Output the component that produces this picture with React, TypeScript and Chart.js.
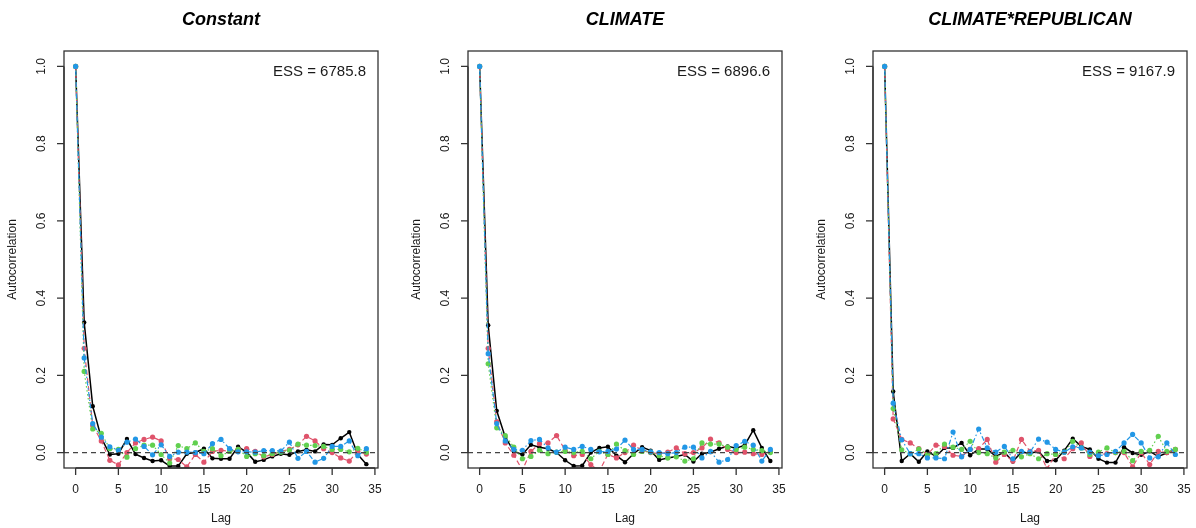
import React, { useEffect, useRef } from "react";
import { Chart, registerables } from "chart.js";

Chart.register(...registerables);

const LAGS = [0, 1, 2, 3, 4, 5, 6, 7, 8, 9, 10, 11, 12, 13, 14, 15, 16, 17, 18, 19, 20, 21, 22, 23, 24, 25, 26, 27, 28, 29, 30, 31, 32, 33, 34];
const X_TICKS = [0, 5, 10, 15, 20, 25, 30, 35];
const Y_TICKS = [0, 0.2, 0.4, 0.6, 0.8, 1.0];
const Y_TICK_LABELS = ["0.0", "0.2", "0.4", "0.6", "0.8", "1.0"];

const TITLES = ["Constant", "CLIMATE", "CLIMATE*REPUBLICAN"];
const ESS_LABELS = ["ESS = 6785.8", "ESS = 6896.6", "ESS = 9167.9"];

const CONST_BLACK = [1.0, 0.337, 0.12, 0.038, -0.005, -0.003, 0.035, -0.004, -0.014, -0.022, -0.02, -0.035, -0.035, -0.003, 0.0, 0.01, -0.015, -0.016, -0.016, 0.015, 0.001, -0.024, -0.019, -0.01, -0.003, -0.006, 0.003, 0.007, 0.003, 0.021, 0.02, 0.037, 0.053, -0.005, -0.03];
const CONST_RED = [1.0, 0.27, 0.07, 0.03, -0.02, -0.032, 0.0, 0.025, 0.034, 0.04, 0.03, -0.016, -0.018, -0.037, -0.005, -0.025, 0.003, 0.006, 0.003, 0.008, 0.01, 0.003, -0.011, -0.005, 0.003, 0.008, 0.02, 0.042, 0.03, 0.01, 0.0, -0.014, -0.022, 0.003, -0.004];
const CONST_GREEN = [1.0, 0.21, 0.061, 0.05, 0.01, 0.008, -0.012, 0.01, 0.019, 0.019, -0.005, -0.027, 0.018, 0.01, 0.025, 0.003, 0.01, -0.008, 0.003, 0.008, -0.01, -0.003, -0.008, -0.003, 0.001, 0.006, 0.022, 0.019, 0.018, 0.016, 0.008, 0.008, 0.002, 0.011, 0.001];
const CONST_BLUE = [1.0, 0.245, 0.075, 0.04, 0.015, 0.006, 0.027, 0.035, 0.016, -0.006, 0.02, -0.01, 0.001, 0.001, 0.0, -0.003, 0.023, 0.034, 0.01, 0.002, 0.002, 0.001, 0.005, 0.005, 0.004, 0.027, -0.015, 0.003, -0.025, -0.015, 0.016, 0.016, 0.03, -0.008, 0.01];

const CLIM_BLACK = [1.0, 0.33, 0.108, 0.04, 0.003, -0.005, 0.02, 0.014, 0.01, 0.0, -0.02, -0.035, -0.034, 0.0, 0.012, 0.015, -0.008, -0.025, -0.003, 0.014, 0.005, -0.019, -0.014, -0.01, -0.005, -0.023, -0.003, 0.001, 0.01, 0.016, 0.011, 0.019, 0.058, 0.012, -0.022];
const CLIM_RED = [1.0, 0.27, 0.08, 0.025, -0.007, -0.045, 0.003, 0.023, 0.025, 0.044, 0.006, -0.008, -0.005, -0.031, -0.048, -0.005, -0.014, 0.0, 0.019, 0.006, 0.0, -0.003, 0.001, 0.012, -0.003, 0.0, 0.012, 0.035, 0.025, 0.008, 0.0, 0.001, -0.003, -0.005, 0.003];
const CLIM_GREEN = [1.0, 0.23, 0.064, 0.044, 0.014, -0.016, -0.01, 0.006, -0.003, 0.001, 0.003, 0.0, 0.003, -0.016, 0.003, -0.005, 0.022, 0.005, -0.005, 0.003, 0.001, -0.008, -0.014, -0.011, -0.022, -0.016, 0.025, 0.022, 0.022, 0.014, 0.008, 0.014, 0.008, 0.005, 0.0];
const CLIM_BLUE = [1.0, 0.256, 0.075, 0.03, 0.008, 0.006, 0.031, 0.034, 0.012, 0.001, 0.014, 0.008, 0.016, 0.008, 0.002, 0.003, 0.009, 0.032, 0.008, 0.008, 0.002, 0.0, -0.003, 0.0, 0.014, 0.014, -0.014, 0.003, -0.025, -0.018, 0.018, 0.029, 0.019, -0.022, 0.008];

const REP_BLACK = [1.0, 0.158, -0.022, -0.003, -0.024, 0.003, -0.01, 0.012, 0.012, 0.025, -0.007, 0.009, 0.009, -0.01, 0.001, -0.023, 0.001, -0.002, 0.003, -0.022, -0.02, 0.005, 0.036, 0.016, 0.008, -0.016, -0.026, -0.026, 0.014, -0.001, -0.006, 0.003, -0.01, -0.001, 0.009];
const REP_RED = [1.0, 0.087, 0.034, 0.025, 0.01, -0.005, 0.019, 0.016, -0.007, -0.01, 0.008, 0.01, 0.034, -0.025, -0.005, -0.022, 0.034, 0.003, 0.006, -0.042, -0.005, -0.016, 0.01, 0.025, -0.01, -0.005, -0.003, 0.0, 0.0, -0.037, 0.0, -0.031, 0.003, 0.0, 0.008];
const REP_GREEN = [1.0, 0.114, 0.007, -0.003, 0.009, -0.005, -0.003, 0.022, 0.014, 0.008, 0.029, 0.0, -0.003, -0.014, 0.001, 0.006, -0.011, -0.003, -0.016, -0.003, -0.005, 0.001, 0.029, 0.012, -0.005, 0.001, 0.012, 0.0, 0.003, -0.021, 0.003, 0.006, 0.042, 0.003, 0.008];
const REP_BLUE = [1.0, 0.128, 0.033, -0.003, -0.003, -0.014, -0.014, -0.016, 0.053, -0.011, 0.008, 0.061, 0.012, 0.001, 0.016, -0.016, 0.003, 0.001, 0.035, 0.027, 0.008, 0.001, 0.015, 0.012, 0.001, -0.008, -0.005, 0.003, 0.025, 0.047, 0.025, -0.014, -0.011, 0.025, -0.005];

const PANELS = [
  [CONST_BLACK, CONST_RED, CONST_GREEN, CONST_BLUE],
  [CLIM_BLACK, CLIM_RED, CLIM_GREEN, CLIM_BLUE],
  [REP_BLACK, REP_RED, REP_GREEN, REP_BLUE],
];

const CHAIN_COLORS = ["#000000", "#DF536B", "#61D04F", "#2297E6"];
const CHAIN_DASH = [[], [5, 3], [1.5, 2.5], [1.5, 2.5, 5, 2.5]];
const CHAIN_WIDTH = [1.5, 1.2, 1.2, 1.2];

const CANVAS_LEFT = [0, 404, 809];
const CANVAS_W = 387;
const CANVAS_H = 528;
const FONT = "'Liberation Sans', Arial, Helvetica, sans-serif";
const TEXT_COLOR = "#1a1a1a";
const AXIS_COLOR = "#333333";

function makeRPlugin(title: string, ess: string) {
  return {
    id: "rstyle",
    afterDraw(chart: any) {
      const ctx = chart.ctx as CanvasRenderingContext2D;
      const area = chart.chartArea;
      const xs = chart.scales.x;
      const ys = chart.scales.y;
      ctx.save();
      // zero reference line
      const y0 = ys.getPixelForValue(0);
      ctx.strokeStyle = "#444444";
      ctx.lineWidth = 1.3;
      ctx.setLineDash([5, 4]);
      ctx.beginPath();
      ctx.moveTo(area.left, y0);
      ctx.lineTo(area.right, y0);
      ctx.stroke();
      ctx.setLineDash([]);

      // box
      ctx.strokeStyle = AXIS_COLOR;
      ctx.lineWidth = 1.3;
      ctx.strokeRect(area.left, area.top, area.right - area.left, area.bottom - area.top);

      // x axis
      const xa0 = xs.getPixelForValue(X_TICKS[0]);
      const xa1 = xs.getPixelForValue(X_TICKS[X_TICKS.length - 1]);
      ctx.beginPath();
      ctx.moveTo(xa0, area.bottom);
      ctx.lineTo(xa1, area.bottom);
      X_TICKS.forEach((t) => {
        const px = xs.getPixelForValue(t);
        ctx.moveTo(px, area.bottom);
        ctx.lineTo(px, area.bottom + 7);
      });
      // y axis
      const ya0 = ys.getPixelForValue(Y_TICKS[0]);
      const ya1 = ys.getPixelForValue(Y_TICKS[Y_TICKS.length - 1]);
      ctx.moveTo(area.left, ya0);
      ctx.lineTo(area.left, ya1);
      Y_TICKS.forEach((t) => {
        const py = ys.getPixelForValue(t);
        ctx.moveTo(area.left, py);
        ctx.lineTo(area.left - 7, py);
      });
      ctx.stroke();

      ctx.fillStyle = TEXT_COLOR;
      ctx.font = `12px ${FONT}`;
      ctx.textAlign = "center";
      ctx.textBaseline = "middle";
      X_TICKS.forEach((t) => {
        ctx.fillText(String(t), xs.getPixelForValue(t), area.bottom + 22);
      });
      Y_TICKS.forEach((t, i) => {
        const py = ys.getPixelForValue(t);
        ctx.save();
        ctx.translate(area.left - 22, py);
        ctx.rotate(-Math.PI / 2);
        ctx.fillText(Y_TICK_LABELS[i], 0, 0);
        ctx.restore();
      });

      // axis titles
      const cx = (area.left + area.right) / 2;
      const cy = (area.top + area.bottom) / 2;
      ctx.fillText("Lag", cx, area.bottom + 51);
      ctx.save();
      ctx.translate(area.left - 51, cy);
      ctx.rotate(-Math.PI / 2);
      ctx.fillText("Autocorrelation", 0, 0);
      ctx.restore();

      // main title
      ctx.fillStyle = "#000000";
      ctx.font = `italic bold 18px ${FONT}`;
      ctx.fillText(title, cx, 20);

      // ESS label
      ctx.fillStyle = TEXT_COLOR;
      ctx.font = `15px ${FONT}`;
      ctx.textAlign = "right";
      ctx.fillText(ess, area.right - 12, 72);
      ctx.restore();
    },
  };
}

function buildChart(canvas: HTMLCanvasElement, panelIndex: number) {
  const series = PANELS[panelIndex];
  const order = [3, 2, 1, 0]; // blue on top, black drawn first
  const datasets = order.map((ci) => ({
    label: `chain ${ci + 1}`,
    data: LAGS.map((l, i) => ({ x: l, y: series[ci][i] })),
    borderColor: CHAIN_COLORS[ci],
    backgroundColor: CHAIN_COLORS[ci],
    borderWidth: CHAIN_WIDTH[ci],
    borderDash: CHAIN_DASH[ci],
    pointRadius: ci === 0 ? 2.2 : 2.6,
    pointBorderWidth: 0,
    pointHoverRadius: 0,
    tension: 0,
    fill: false,
  }));
  return new Chart(canvas, {
    type: "line",
    data: { datasets },
    options: {
      responsive: false,
      animation: false,
      devicePixelRatio: 1,
      layout: { padding: { left: 64, right: CANVAS_W - 378, top: 51, bottom: CANVAS_H - 468 } },
      plugins: { legend: { display: false }, tooltip: { enabled: false }, title: { display: false } },
      events: [],
      scales: {
        x: { type: "linear", min: -1.36, max: 35.36, display: false },
        y: { type: "linear", min: -0.04, max: 1.04, display: false },
      },
    },
    plugins: [makeRPlugin(TITLES[panelIndex], ESS_LABELS[panelIndex])],
  } as any);
}

export default function App() {
  const r0 = useRef<HTMLCanvasElement>(null);
  const r1 = useRef<HTMLCanvasElement>(null);
  const r2 = useRef<HTMLCanvasElement>(null);
  useEffect(() => {
    const refs = [r0, r1, r2];
    const charts = refs.map((r, i) => buildChart(r.current as HTMLCanvasElement, i));
    return () => charts.forEach((c) => c.destroy());
  }, []);
  const refs = [r0, r1, r2];
  return (
    <div style={{ position: "fixed", left: 0, top: 0, width: 1196, height: 528, background: "#ffffff", overflow: "hidden" }}>
      {refs.map((r, i) => (
        <canvas
          key={i}
          ref={r}
          width={CANVAS_W}
          height={CANVAS_H}
          style={{ position: "absolute", left: CANVAS_LEFT[i], top: 0, width: CANVAS_W, height: CANVAS_H }}
        />
      ))}
    </div>
  );
}
